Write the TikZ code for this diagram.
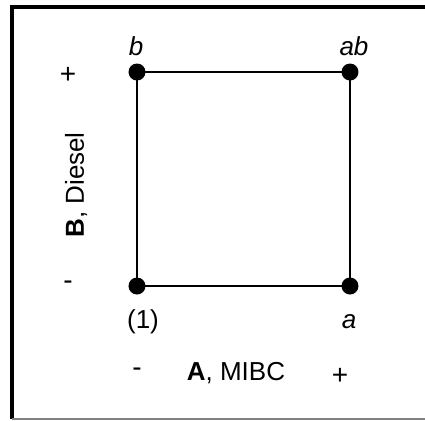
\documentclass[tikz,border=0pt]{standalone}
\usepackage{fontspec}
\setmainfont{Liberation Sans}
\usepackage{tikz}
\usetikzlibrary{positioning}
\tikzset{
  corner/.style = {circle, fill=black, inner sep=0pt, minimum size=8.5pt},
  edge/.style   = {line width=1.1pt},
  lbl/.style    = {inner sep=0pt, font=\fontsize{13}{15}\selectfont},
  sign/.style   = {inner sep=0pt, font=\fontsize{14}{16}\selectfont},
  frame/.style  = {line width=1.6pt},
}

\begin{document}
\begin{tikzpicture}[x=0.5pt, y=-0.5pt]
\useasboundingbox (0,0) rectangle (425,420);

% ---------------- frame ----------------------------------------------
\draw[frame] (425,7) -- (12,7) -- (12,419);
\draw[gray, line width=0.8pt] (12,419) -- (425,419);

% ---------------- the four runs ---------------------------------------
\node[corner] (n1)  at (137,286) {};
\node[corner] (na)  at (350,286) {};
\node[corner] (nb)  at (137,72)  {};
\node[corner] (nab) at (350,72)  {};

\foreach \i/\j in {n1/na, na/nab, nab/nb, nb/n1}
  \draw[edge] (\i.center) -- (\j.center);

% ---------------- treatment labels ------------------------------------
\node[lbl, anchor=base] (tb)  at (136,55)  {\itshape b};
\node[lbl, anchor=base] (tab) at (354,55)  {\itshape ab};
\node[lbl, anchor=base] (t1)  at (143,328) {(1)};
\node[lbl, anchor=base] (ta)  at (349,328) {\itshape a};

% ---------------- factor axes -----------------------------------------
\node[sign] (bplus)  at (68,75)  {+};
\node[sign] (bminus) at (68,285) {-};
\node[lbl, rotate=90] (bname) at (76,185) {\textbf{B}, Diesel};

\node[sign] (aminus) at (137,372) {-};
\node[lbl]  (aname)  at (236,373) {\textbf{A}, MIBC};
\node[sign] (aplus)  at (340,376) {+};

\end{tikzpicture}
\end{document}
